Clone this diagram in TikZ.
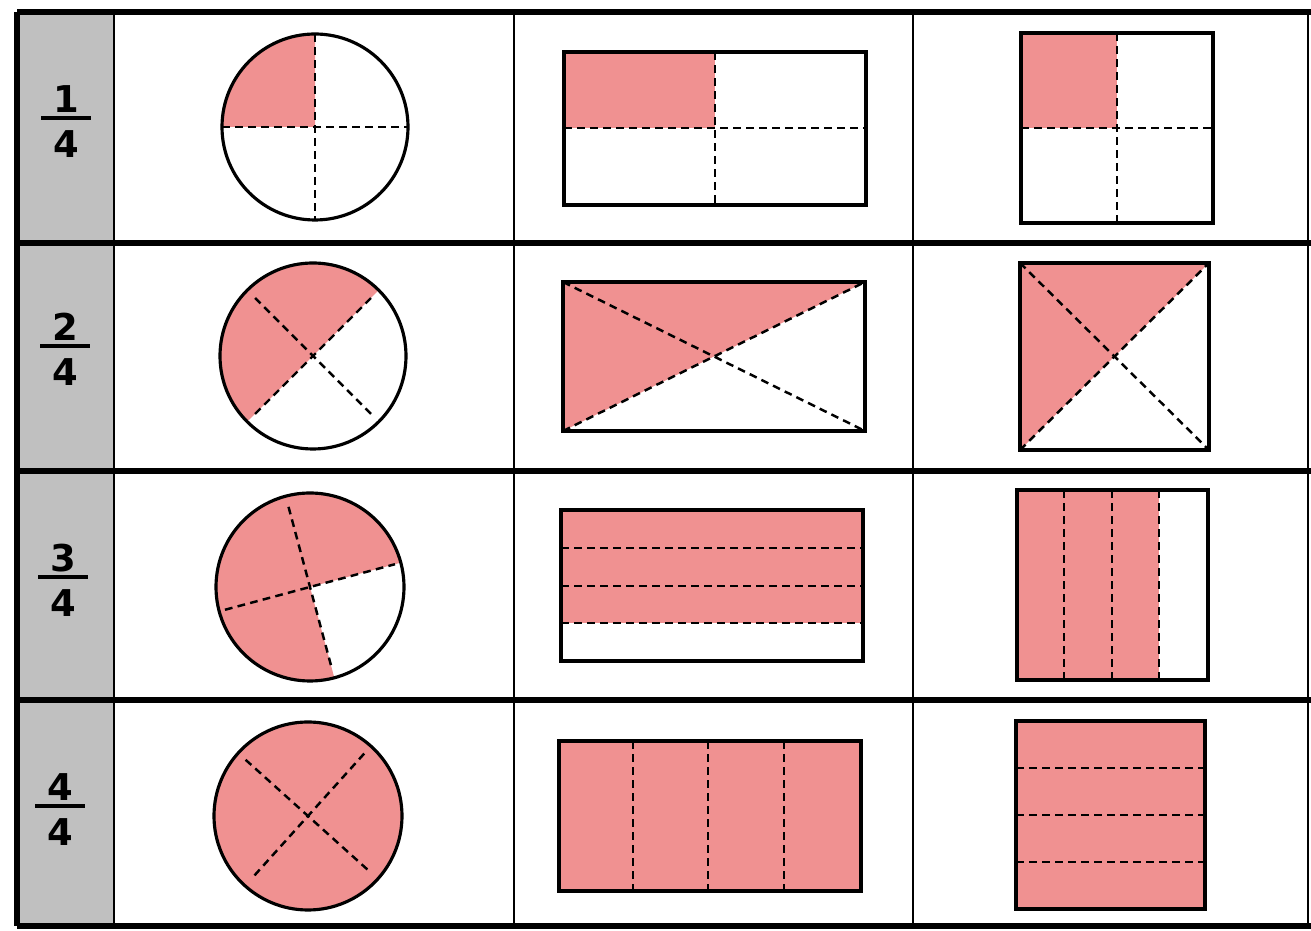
\documentclass[tikz,border=0pt]{standalone}
\usepackage{fontspec}
\usepackage{tikz}
\usetikzlibrary{calc}
\newfontfamily\fracfont{DejaVu Sans}
\definecolor{crayon}{RGB}{240,145,145}
\definecolor{labelgrey}{RGB}{192,192,192}

\begin{document}
\begin{tikzpicture}[x=0.01cm, y=0.01cm,
    piece/.style={fill=crayon, draw=none},
    shapeline/.style={draw=black, line width=0.9pt},
    cutline/.style={draw=black, dash pattern=on 2.2pt off 1.5pt, line width=0.7pt},
    gridthick/.style={line width=1.5pt},
    gridthin/.style={line width=0.6pt},
    digit/.style={font=\fracfont\bfseries\fontsize{10.5}{12}\selectfont, inner sep=0pt},
    fracbar/.style={line width=0.9pt}
]
    \useasboundingbox (0,0) rectangle (1311,-931);

    % table
    \fill[labelgrey] (18,-12) rectangle (114,-926);
    \draw[gridthin] (114,-12) -- (114,-926);
    \draw[gridthin] (514,-12) -- (514,-926);
    \draw[gridthin] (913,-12) -- (913,-926);
    \draw[gridthin] (1308,-12) -- (1308,-926);
    \foreach \y in {243,471,700}
        \draw[gridthick] (17,-\y) -- (1311,-\y);
    \draw[gridthick] (17,-12) -- (1311,-12);
    \draw[gridthick] (17,-926) -- (1311,-926);
    \draw[gridthick] (17,-12) -- (17,-926);

    % fractions
    \foreach \n/\x/\y in {1/66/118, 2/65/346, 3/63/577, 4/60/806} {
        \node[digit] (num\n) at (\x,-\y+19) {\n};
        \node[digit] (den\n) at (\x,-\y-26) {4};
        \draw[fracbar] (\x-25,-\y) -- (\x+25,-\y);
    }

    % row 1: one quarter
    \fill[piece] (315,-127) -- (222,-127) arc[start angle=180, end angle=90, radius=93] -- cycle;
    \draw[cutline] (315,-34) -- (315,-220) (222,-127) -- (408,-127);
    \draw[shapeline] (315,-127) circle[radius=93];

    \fill[piece] (564,-52) rectangle (715,-128);
    \draw[cutline] (715,-52) -- (715,-205) (564,-128) -- (866,-128);
    \draw[shapeline] (564,-52) rectangle (866,-205);

    \fill[piece] (1021,-33) rectangle (1117,-128);
    \draw[cutline] (1117,-33) -- (1117,-223) (1021,-128) -- (1213,-128);
    \draw[shapeline] (1021,-33) rectangle (1213,-223);

    % row 2: two quarters
    \fill[piece] (313,-356) -- ++(45:93) arc[start angle=45, end angle=225, radius=93] -- cycle;
    \draw[cutline] ($(313,-356)+(45:82)$) -- ($(313,-356)+(225:82)$)
        ($(313,-356)+(135:82)$) -- ($(313,-356)+(315:82)$);
    \draw[shapeline] (313,-356) circle[radius=93];

    \fill[piece] (563,-282) -- (865,-282) -- (714,-356.5) -- (563,-431) -- cycle;
    \draw[cutline] (563,-282) -- (865,-431) (563,-431) -- (865,-282);
    \draw[shapeline] (563,-282) rectangle (865,-431);

    \fill[piece] (1020,-263) -- (1209,-263) -- (1114.5,-356.5) -- (1020,-450) -- cycle;
    \draw[cutline] (1020,-263) -- (1209,-450) (1020,-450) -- (1209,-263);
    \draw[shapeline] (1020,-263) rectangle (1209,-450);

    % row 3: three quarters
    \fill[piece] (310,-587) -- ++(15:94) arc[start angle=15, end angle=285, radius=94] -- cycle;
    \draw[cutline] ($(310,-587)+(105:83)$) -- ($(310,-587)+(285:83)$)
        ($(310,-587)+(195:88)$) -- ($(310,-587)+(15:88)$);
    \draw[shapeline] (310,-587) circle[radius=94];

    \fill[piece] (561,-510) rectangle (863,-623);
    \foreach \y in {548,586,623}
        \draw[cutline] (561,-\y) -- (863,-\y);
    \draw[shapeline] (561,-510) rectangle (863,-661);

    \fill[piece] (1017,-490) rectangle (1159,-680);
    \foreach \x in {1064,1112,1159}
        \draw[cutline] (\x,-490) -- (\x,-680);
    \draw[shapeline] (1017,-490) rectangle (1208,-680);

    % row 4: four quarters
    \fill[piece] (308,-816) circle[radius=94];
    \draw[cutline] ($(308,-816)+(48:84)$) -- ($(308,-816)+(228:84)$)
        ($(308,-816)+(138:84)$) -- ($(308,-816)+(318:84)$);
    \draw[shapeline] (308,-816) circle[radius=94];

    \fill[piece] (559,-741) rectangle (861,-891);
    \foreach \x in {633,708,784}
        \draw[cutline] (\x,-741) -- (\x,-891);
    \draw[shapeline] (559,-741) rectangle (861,-891);

    \fill[piece] (1016,-721) rectangle (1205,-909);
    \foreach \y in {768,815,862}
        \draw[cutline] (1016,-\y) -- (1205,-\y);
    \draw[shapeline] (1016,-721) rectangle (1205,-909);
\end{tikzpicture}
\end{document}
